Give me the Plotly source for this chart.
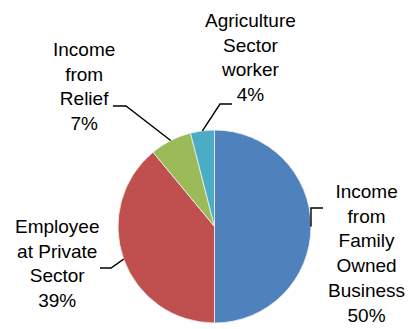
import math
import plotly.graph_objects as go

# Income source shares (percent)
labels = ["Income from Family Owned Business", "Employee at Private Sector",
          "Income from Relief", "Agriculture Sector worker"]
values = [50, 39, 7, 4]
colors = ["#4F81BD", "#C0504D", "#9BBB59", "#4BACC6"]

# Label text blocks (line-broken as displayed)
label_lines = [
    ["Income", "from", "Family", "Owned", "Business"],
    ["Employee", "at Private", "Sector"],
    ["Income", "from", "Relief"],
    ["Agriculture", "Sector", "worker"],
]

W, H = 410, 329
cx, cy, r = 214.5, 226.5, 96.5          # pie centre / radius in pixels

# label block centres (pixels) and leader elbow/end points (pixels)
label_pos = [(366, 253), (57, 263), (84, 87), (250, 58)]
leader_mid = [(311, 208), (111, 268), (126, 106), (220, 104)]
leader_end = [(323, 208), (100, 268), (113, 106), (232, 104)]


def px(x, y):
    return x / W, 1 - y / H


fig = go.Figure(go.Pie(
    labels=labels, values=values, sort=False, direction="clockwise",
    rotation=0, textinfo="none", hoverinfo="label+percent",
    marker=dict(colors=colors, line=dict(color="#F2F2F2", width=0.8)),
    domain=dict(x=[(cx - r) / W, (cx + r) / W],
                y=[(H - cy - r) / H, (H - cy + r) / H]),
))

total = sum(values)
start = 0.0
shapes, annotations = [], []
for i, v in enumerate(values):
    mid = start + v / total * 360 / 2
    start += v / total * 360
    ang = math.radians(mid)
    sx, sy = cx + r * math.sin(ang), cy - r * math.cos(ang)
    x0, y0 = px(sx, sy)
    x1, y1 = px(*leader_mid[i])
    x2, y2 = px(*leader_end[i])
    shapes.append(dict(type="path", xref="paper", yref="paper",
                       path=f"M {x0} {y0} L {x1} {y1} L {x2} {y2}",
                       line=dict(color="black", width=1.4)))
    pct = f"{round(v / total * 100)}%"
    ax, ay = px(*label_pos[i])
    annotations.append(dict(
        text="<br>".join(label_lines[i] + [pct]), x=ax, y=ay,
        xref="paper", yref="paper", xanchor="center", yanchor="middle",
        showarrow=False, align="center",
        font=dict(family="Liberation Sans", size=19, color="black")))

fig.update_layout(
    width=W, height=H, margin=dict(l=0, r=0, t=0, b=0),
    paper_bgcolor="white", plot_bgcolor="white", showlegend=False,
    shapes=shapes, annotations=annotations,
)

fig.write_html("out.html")
